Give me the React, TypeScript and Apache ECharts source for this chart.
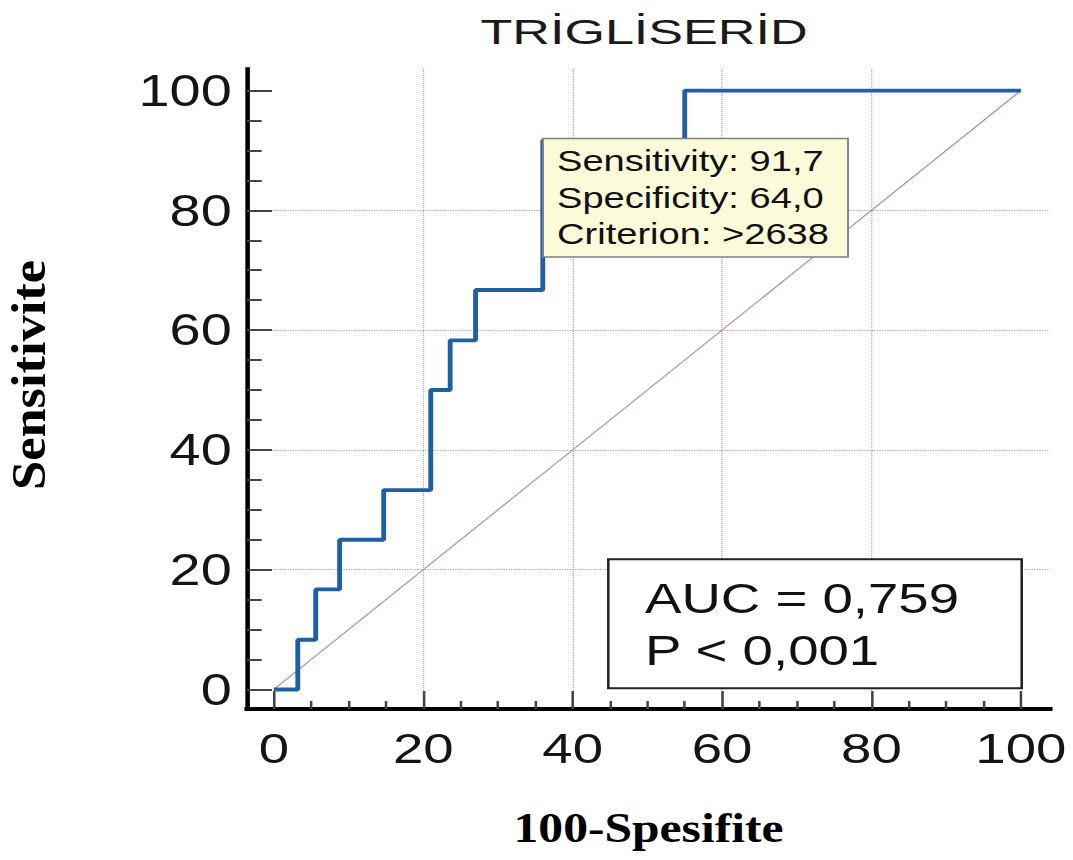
import React, { useEffect, useRef } from "react";
import * as echarts from "echarts";

// The reference image is horizontally stretched; we render at a narrower width
// and stretch the whole chart with a CSS transform.
const INNER_W = 845;
const SCALE_X = 1073 / INNER_W;
const ix = (a: number) => a / SCALE_X;

// ROC curve vertices (100-Specificity, Sensitivity), drawn as a step line
const fpr = [0, 3.2, 5.6, 8.8, 14.7, 21.0, 23.6, 27.0, 36.0, 55.0, 100];
const tpr = [0, 8.3, 16.7, 25.0, 33.3, 50.0, 58.3, 66.7, 91.7, 100, 100];
// Reference (chance) diagonal
const refX = [0, 100];
const refY = [0, 100];
// Tick labels
const xTicks = [0, 20, 40, 60, 80, 100];
const yTicks = [0, 20, 40, 60, 80, 100];

const titleText = "TRİGLİSERİD";
const xTitle = "100-Spesifite";
const yTitle = "Sensitivite";
const criterionLines = ["Sensitivity: 91,7", "Specificity: 64,0", "Criterion: >2638"];
const statLines = ["AUC = 0,759", "P < 0,001"];

export default function App() {
  const ref = useRef<HTMLDivElement>(null);
  useEffect(() => {
    const chart = echarts.init(ref.current!, null, { renderer: "svg" });
    const sans = "Liberation Sans, Arial, sans-serif";
    const serif = "Liberation Serif, Times New Roman, serif";
    chart.setOption({
      animation: false,
      backgroundColor: "#ffffff",
      grid: {
        left: 194.5,
        right: INNER_W - ix(1050),
        top: 69,
        bottom: 151,
        containLabel: false,
        outerBoundsMode: "none",
      },
      xAxis: {
        type: "value",
        min: -3.6,
        max: 103.9,
        axisLine: { show: true, onZero: false, lineStyle: { color: "#000", width: 4, cap: "square" } },
        axisTick: {
          show: true,
          inside: true,
          length: 18,
          customValues: xTicks,
          lineStyle: { color: "#444", width: 2 },
        },
        minorTick: { show: true, splitNumber: 4, length: 8, lineStyle: { color: "#444", width: 2 } },
        axisLabel: {
          customValues: xTicks,
          margin: 18,
          fontSize: 43,
          lineHeight: 43,
          fontFamily: sans,
          color: "#151515",
        },
        splitLine: {
          show: true,
          showMinLine: false,
          showMaxLine: false,
          lineStyle: { color: "#a6a6a6", type: "dotted", width: 1 },
        },
      },
      yAxis: {
        type: "value",
        min: -3.26,
        max: 103.6,
        axisLine: { show: true, onZero: false, lineStyle: { color: "#000", width: 3.6, cap: "square" } },
        axisTick: {
          show: true,
          inside: true,
          length: 19.7,
          customValues: yTicks,
          lineStyle: { color: "#444", width: 2 },
        },
        minorTick: { show: true, splitNumber: 4, length: 11.6, lineStyle: { color: "#444", width: 2 } },
        axisLabel: {
          customValues: yTicks,
          margin: 12,
          fontSize: 44,
          fontFamily: sans,
          color: "#151515",
        },
        splitLine: {
          show: true,
          showMinLine: false,
          showMaxLine: false,
          lineStyle: { color: "#a6a6a6", type: "dotted", width: 1 },
        },
      },
      series: [
        {
          type: "line",
          data: refX.map((x, i) => [x, refY[i]]),
          symbol: "none",
          silent: true,
          lineStyle: { color: "#bf8f8f", width: 1.1 },
          z: 2,
        },
        {
          type: "line",
          data: fpr.map((x, i) => [x, tpr[i]]),
          step: "end",
          symbol: "none",
          silent: true,
          lineStyle: { color: "#1f5fa6", width: 3.8 },
          z: 3,
        },
      ],
      graphic: [
        {
          type: "text",
          x: ix(644),
          y: 31,
          scaleX: 1.14,
          z: 100,
          style: {
            text: titleText,
            fontFamily: sans,
            fontSize: 36,
            fill: "#1a1a1a",
            align: "center",
            verticalAlign: "middle",
          },
        },
        {
          type: "text",
          x: ix(29),
          y: 375,
          rotation: Math.PI / 2,
          scaleX: 1.07,
          scaleY: 1 / SCALE_X,
          z: 100,
          style: {
            text: yTitle,
            fontFamily: serif,
            fontWeight: "bold",
            fontSize: 49,
            fill: "#000",
            align: "center",
            verticalAlign: "middle",
          },
        },
        {
          type: "text",
          x: ix(648.5),
          y: 828,
          scaleX: 0.93,
          z: 100,
          style: {
            text: xTitle,
            fontFamily: serif,
            fontWeight: "bold",
            fontSize: 42,
            fill: "#000",
            align: "center",
            verticalAlign: "middle",
          },
        },
        {
          type: "rect",
          z: 100,
          shape: { x: ix(543), y: 138.5, width: ix(848) - ix(543), height: 257 - 138.5 },
          style: { fill: "#fbfbd9", stroke: "#808080", lineWidth: 1.5 },
        },
        ...criterionLines.map((t, i) => ({
          type: "text",
          x: ix(557),
          y: 161 + i * 36.5,
          z: 101,
          style: {
            text: t,
            fontFamily: sans,
            fontSize: 30,
            fill: "#111",
            align: "left",
            verticalAlign: "middle",
          },
        })),
        {
          type: "rect",
          z: 100,
          shape: { x: ix(608.3), y: 559.3, width: ix(1021.7) - ix(608.3), height: 129 },
          style: { fill: "#ffffff", stroke: "#222", lineWidth: 2 },
        },
        ...statLines.map((t, i) => ({
          type: "text",
          x: ix(645),
          y: 598 + i * 52.3,
          z: 101,
          style: {
            text: t,
            fontFamily: sans,
            fontSize: 43,
            fill: "#111",
            align: "left",
            verticalAlign: "middle",
          },
        })),
      ],
    });
    return () => chart.dispose();
  }, []);
  return (
    <div
      style={{
        position: "fixed",
        left: 0,
        top: 0,
        width: 1073,
        height: 860,
        overflow: "hidden",
        background: "#fff",
      }}
    >
      <div
        ref={ref}
        style={{
          width: INNER_W,
          height: 860,
          transform: `scaleX(${SCALE_X})`,
          transformOrigin: "0 0",
        }}
      />
    </div>
  );
}
